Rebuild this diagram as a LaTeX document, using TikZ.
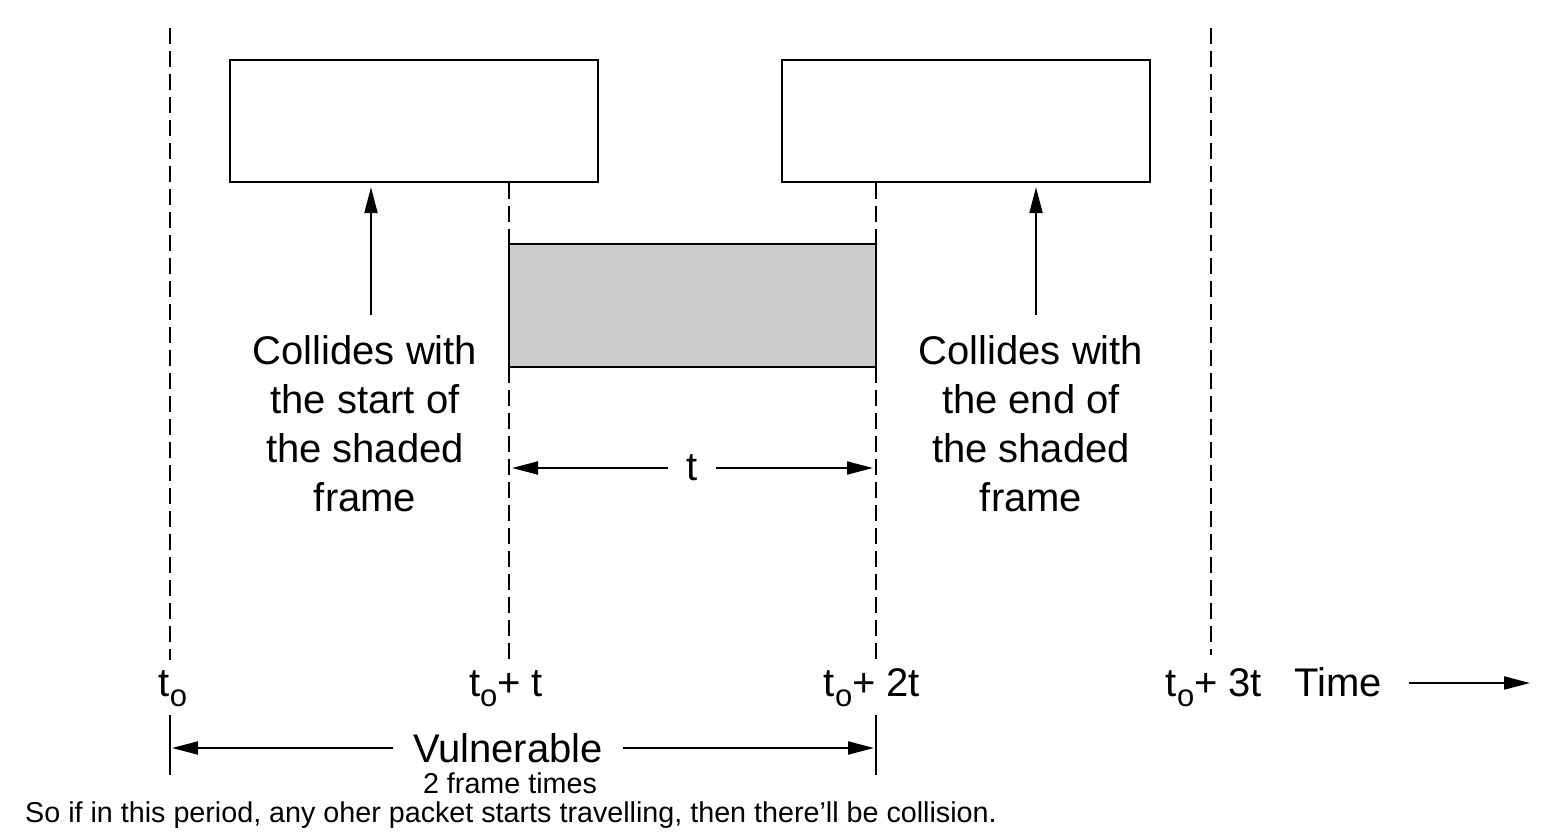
\documentclass[tikz,border=0pt]{standalone}
\usepackage{fontspec}
\setmainfont{Liberation Sans}
\usetikzlibrary{arrows.meta}
\newcommand{\tsub}{t{\fontsize{31}{31}\selectfont\raisebox{-10pt}{o}}}
\begin{document}
\begin{tikzpicture}[x=1pt,y=-1pt,
  frame/.style={draw, line width=2.3pt, minimum width=368pt, minimum height=122pt, inner sep=0pt},
  vdash/.style={line width=2pt, dash pattern=on 16pt off 7pt},
  tickline/.style={line width=2pt},
  arr/.style={line width=2pt, -{Triangle[length=26pt,width=13pt]}},
  big/.style={font=\fontsize{40}{49}\selectfont, align=center, inner sep=0pt},
  small/.style={font=\fontsize{28.7}{32}\selectfont, inner sep=0pt},
]
\useasboundingbox (0,0) rectangle (1562,832);
% frames
\node[frame] (b1) at (414,121) {};
\node[frame] (b2) at (966,121) {};
\node[frame, fill=black!20, minimum width=367pt, minimum height=123pt] (shaded) at (692.5,305.5) {};
% dashed time lines
\coordinate (d0t) at (170,28);  \coordinate (d0b) at (170,660);
\coordinate (d1t) at (509,183); \coordinate (d1b) at (509,660);
\coordinate (d2t) at (876,183); \coordinate (d2b) at (876,660);
\coordinate (d3t) at (1211,28); \coordinate (d3b) at (1211,655);
\draw[vdash] (d0t) -- (d0b);
\draw[vdash] (d1t) -- (d1b);
\draw[vdash] (d2t) -- (d2b);
\draw[vdash] (d3t) -- (d3b);
% solid ticks
\coordinate (k0t) at (170,715); \coordinate (k0b) at (170,775);
\coordinate (k2t) at (876,715); \coordinate (k2b) at (876,775);
\draw[tickline] (k0t) -- (k0b);
\draw[tickline] (k2t) -- (k2b);
% collide texts and arrows
\node[big] (c1) at (365,424) {Collides with\\the start of\\the shaded\\frame};
\node[big] (c2) at (1031,424) {Collides with\\the end of\\the shaded\\frame};
\coordinate (a1) at (371,315); \coordinate (a2) at (1036,315);
\draw[arr] (a1) -- ([yshift=-4pt]a1 |- b1.south);
\draw[arr] (a2) -- ([yshift=-4pt]a2 |- b2.south);
% t arrow
\node[big, inner xsep=18pt] (tl) at (692,468) {t};
\coordinate (tL) at (512,468); \coordinate (tR) at (873,468);
\draw[arr] (tl.west) -- (tL);
\draw[arr] (tl.east) -- (tR);
% time labels
\node[big, anchor=base] (l0) at (173,696) {\tsub};
\node[big, anchor=base] (l1) at (506,696) {\tsub+ t};
\node[big, anchor=base] (l2) at (872,696) {\tsub+ 2t};
\node[big, anchor=base] (l3) at (1214,696) {\tsub+ 3t};
\node[big, anchor=base] (time) at (1338,696) {Time};
\coordinate (tend) at (1530,683);
\draw[arr] ([xshift=27pt]time.east |- tend) -- (tend);
% vulnerable
\node[big, inner xsep=20pt] (vul) at (508,748) {Vulnerable};
\coordinate (vL) at (172,748); \coordinate (vR) at (874,748);
\draw[arr] (vul.west) -- (vL);
\draw[arr] (vul.east) -- (vR);
\node[small] (frames) at (510,783) {2 frame times};
\node[small, anchor=west] (note) at (25,815) {So if in this period, any oher packet starts travelling, then there’ll be collision.};
\end{tikzpicture}
\end{document}
